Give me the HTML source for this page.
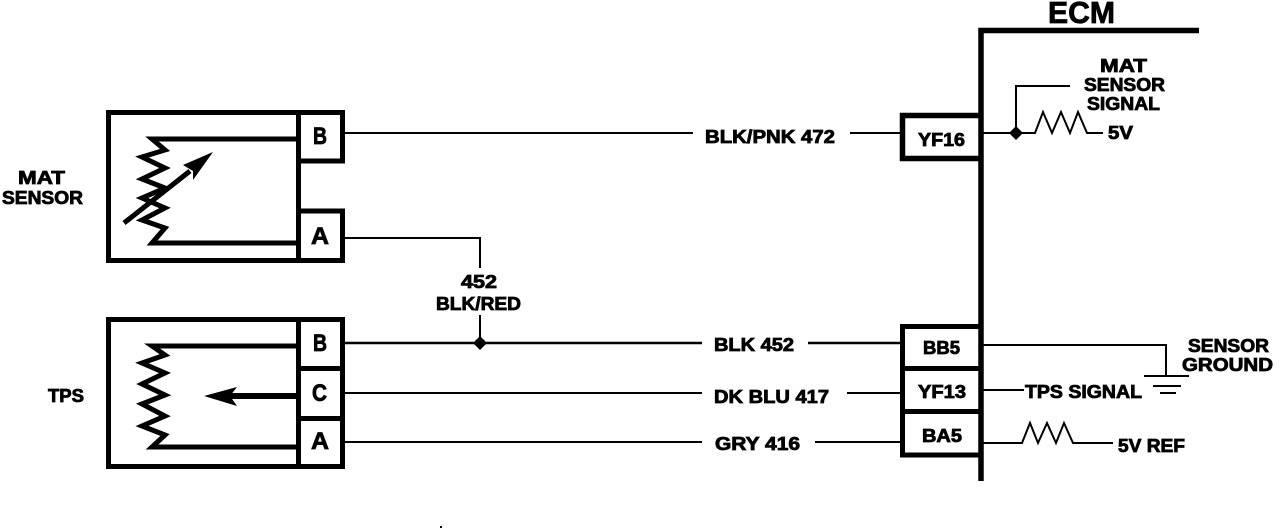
<!DOCTYPE html>
<html>
<head>
<meta charset="utf-8">
<style>
html,body{margin:0;padding:0;background:#fff;width:1280px;height:530px;overflow:hidden}
svg{display:block}
text{font-family:"Liberation Sans",sans-serif;font-weight:bold;fill:#000;stroke:#000;stroke-width:.8px}
.l{font-size:18px}
</style>
</head>
<body>
<svg width="1280" height="530" viewBox="0 0 1280 530" xmlns="http://www.w3.org/2000/svg">
<rect width="1280" height="530" fill="#fff"/>
<g fill="none" stroke="#000" stroke-linejoin="miter">
  <!-- MAT sensor -->
  <path d="M342.500 161V112.500H108.500V260.500H342.500V211" stroke-width="5"/>
  <path d="M298.500 110V262M298 161H345M298 211H345" stroke-width="5"/>
  <path d="M297 139H152L165 150L142 157L165 168L142 179L165 188L142 198L165 208L142 220L165 228L152 243H297" stroke-width="5"/>
  <path d="M124 223L190 171" stroke-width="5"/>
  <!-- TPS -->
  <rect x="108.500" y="319.500" width="234" height="147" stroke-width="5"/>
  <path d="M298.500 317V469M298 368.500H345M298 418.500H345" stroke-width="5"/>
  <path d="M297 346H152L165 355L142 363L165 373L142 384L165 395L142 404L165 416L142 426L165 435L152 447H297" stroke-width="5"/>
  <path d="M297 396H228" stroke-width="6"/>
  <!-- ECM -->
  <path d="M1199 30.500H981V481" stroke-width="5.500"/>
  <path d="M980 115.500H902.500V158.500H980" stroke-width="5.500"/>
  <path d="M980 326.500H902.500V455H980M902 368.500H980M902 411.500H980" stroke-width="5"/>
  <!-- wires -->
  <g stroke-width="2">
    <path d="M345 133H693M850 133H901"/>
    <path d="M345 238H480V268"/>
    <path d="M480 315V343"/>
    <path d="M345 343H702M808 343H901" stroke-width="2.500"/>
    <path d="M345 393H702M847 393H901"/>
    <path d="M345 442H702M815 442H901"/>
    <path d="M983 133H1035L1043 112L1052 133L1061 112L1070 133L1078 112L1087 133H1103"/>
    <path d="M1016 133V86H1070"/>
    <path d="M983 345H1166V376M1144 376H1189M1153 386H1181M1160 393H1176"/>
    <path d="M983 390H1024"/>
    <path d="M983 443H1022L1030 423L1038 443L1047 423L1056 443L1064 423L1073 443H1113"/>
  </g>
</g>
<g fill="#000" stroke="none">
  <path d="M213 152L183 165L193 171L193 180Z"/>
  <path d="M204 396L237 387L230 396L237 406Z"/>
  <path d="M480 336L487 343L480 350L473 343Z"/>
  <path d="M1016 126L1023 133L1016 140L1009 133Z"/>
  <rect x="440" y="526" width="2" height="2"/>
</g>
<g>
  <text class="l" x="18" y="184" textLength="47" lengthAdjust="spacingAndGlyphs">MAT</text>
  <text class="l" x="2" y="204" textLength="81" lengthAdjust="spacingAndGlyphs">SENSOR</text>
  <text class="l" x="48" y="402" textLength="36" lengthAdjust="spacingAndGlyphs">TPS</text>

  <text x="313" y="144" font-size="24" textLength="14" lengthAdjust="spacingAndGlyphs">B</text>
  <text x="311" y="244" font-size="24" textLength="18" lengthAdjust="spacingAndGlyphs">A</text>
  <text x="313" y="351" font-size="24" textLength="14" lengthAdjust="spacingAndGlyphs">B</text>
  <text x="312" y="401" font-size="24" textLength="15" lengthAdjust="spacingAndGlyphs">C</text>
  <text x="311" y="449" font-size="24" textLength="18" lengthAdjust="spacingAndGlyphs">A</text>

  <text class="l" x="705" y="143" textLength="130" lengthAdjust="spacingAndGlyphs">BLK/PNK 472</text>
  <text class="l" x="714" y="351" textLength="80" lengthAdjust="spacingAndGlyphs">BLK 452</text>
  <text class="l" x="714" y="403" textLength="115" lengthAdjust="spacingAndGlyphs">DK BLU 417</text>
  <text class="l" x="715" y="450" textLength="85" lengthAdjust="spacingAndGlyphs">GRY 416</text>
  <text class="l" x="461" y="288" textLength="36" lengthAdjust="spacingAndGlyphs">452</text>
  <text class="l" x="436" y="310" textLength="85" lengthAdjust="spacingAndGlyphs">BLK/RED</text>

  <text x="1048" y="23" font-size="31" textLength="67" lengthAdjust="spacingAndGlyphs">ECM</text>
  <text class="l" x="1100" y="72" textLength="47" lengthAdjust="spacingAndGlyphs">MAT</text>
  <text class="l" x="1084" y="91" textLength="81" lengthAdjust="spacingAndGlyphs">SENSOR</text>
  <text class="l" x="1087" y="110" textLength="73" lengthAdjust="spacingAndGlyphs">SIGNAL</text>
  <text class="l" x="1108" y="139" textLength="25" lengthAdjust="spacingAndGlyphs">5V</text>

  <text class="l" x="918" y="146" textLength="47" lengthAdjust="spacingAndGlyphs">YF16</text>
  <text class="l" x="923" y="354" textLength="37" lengthAdjust="spacingAndGlyphs">BB5</text>
  <text class="l" x="918" y="398" textLength="48" lengthAdjust="spacingAndGlyphs">YF13</text>
  <text class="l" x="922" y="442" textLength="40" lengthAdjust="spacingAndGlyphs">BA5</text>

  <text class="l" x="1188" y="352" textLength="81" lengthAdjust="spacingAndGlyphs">SENSOR</text>
  <text class="l" x="1182" y="371" textLength="91" lengthAdjust="spacingAndGlyphs">GROUND</text>
  <text class="l" x="1025" y="398" textLength="117" lengthAdjust="spacingAndGlyphs">TPS SIGNAL</text>
  <text class="l" x="1118" y="452" textLength="67" lengthAdjust="spacingAndGlyphs">5V REF</text>
</g>
</svg>
</body>
</html>
